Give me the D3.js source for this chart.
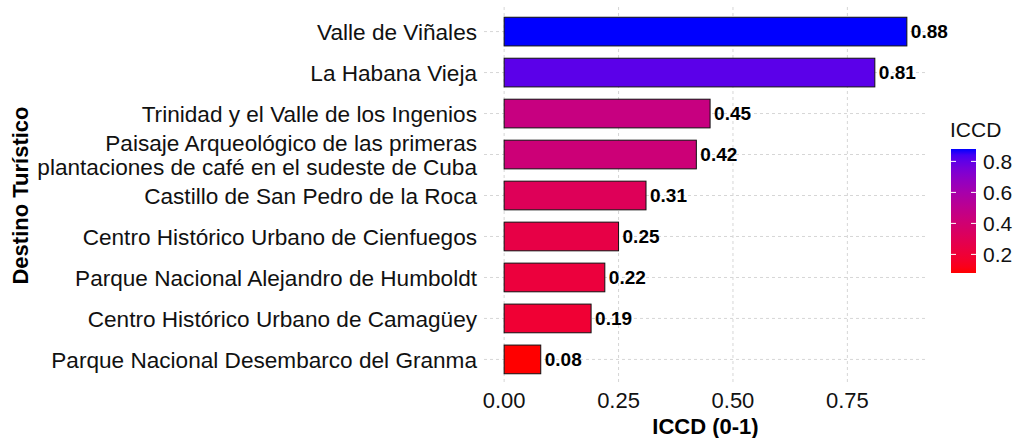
<!DOCTYPE html>
<html>
<head>
<meta charset="utf-8">
<script src="https://cdn.jsdelivr.net/npm/d3@7"></script>
<style>
  body { margin: 0; background: #fff; }
  text { font-family: "Liberation Sans", Arial, sans-serif; }
</style>
</head>
<body>
<div id="wrapper"></div>
<script>
// data
const destinos = [
  "Valle de Viñales",
  "La Habana Vieja",
  "Trinidad y el Valle de los Ingenios",
  "Paisaje Arqueológico de las primeras\nplantaciones de café en el sudeste de Cuba",
  "Castillo de San Pedro de la Roca",
  "Centro Histórico Urbano de Cienfuegos",
  "Parque Nacional Alejandro de Humboldt",
  "Centro Histórico Urbano de Camagüey",
  "Parque Nacional Desembarco del Granma"
]
const iccd = [0.88, 0.81, 0.45, 0.42, 0.31, 0.25, 0.22, 0.19, 0.08]
const xTicks = [0, 0.25, 0.5, 0.75]
const legendTicks = [0.2, 0.4, 0.6, 0.8]

const width = 1017, height = 438
const panel = { left: 484, right: 927, top: 7, bottom: 384 }

const svg = d3.select("#wrapper")
  .append("svg")
    .attr("width", width)
    .attr("height", height)

const xMax = d3.max(iccd)
const x = d3.scaleLinear()
  .domain([-xMax * 0.05, xMax * 1.05])
  .range([panel.left, panel.right])

// discrete y with ggplot-like 0.6 expansion
const step = (panel.bottom - panel.top) / (destinos.length - 1 + 1.2)
const y = d3.scalePoint()
  .domain(destinos)
  .range([panel.top + 0.6 * step, panel.bottom - 0.6 * step])
const barH = step * 0.7

const color = d3.scaleLinear()
  .domain(d3.extent(iccd))
  .range(["#ff0000", "#0000ff"])
  .interpolate(d3.interpolateLab)

const grid = svg.append("g")
  .attr("stroke", "#d6d6d6")
  .attr("stroke-dasharray", "3,3")
  .attr("stroke-width", 1)

grid.selectAll(".hgrid")
  .data(destinos)
  .join("line")
    .attr("x1", panel.left).attr("x2", panel.right)
    .attr("y1", d => y(d)).attr("y2", d => y(d))

grid.selectAll(".vgrid")
  .data(xTicks)
  .join("line")
    .attr("x1", d => x(d)).attr("x2", d => x(d))
    .attr("y1", panel.top).attr("y2", panel.bottom)

const bars = svg.append("g")
bars.selectAll("rect")
  .data(destinos)
  .join("rect")
    .attr("x", x(0))
    .attr("y", d => y(d) - barH / 2)
    .attr("width", (d, i) => x(iccd[i]) - x(0))
    .attr("height", barH)
    .attr("fill", (d, i) => color(iccd[i]))
    .attr("stroke", "#111")
    .attr("stroke-width", 1)

// value labels
svg.append("g").selectAll("text")
  .data(destinos)
  .join("text")
    .attr("x", (d, i) => x(iccd[i]) + 4)
    .attr("y", d => y(d))
    .attr("dy", "0.36em")
    .attr("font-size", 19)
    .attr("font-weight", "bold")
    .attr("fill", "#000")
    .text((d, i) => iccd[i].toFixed(2))

// y axis labels
const yLab = svg.append("g").selectAll("text")
  .data(destinos)
  .join("text")
    .attr("text-anchor", "end")
    .attr("font-size", 22.6)
    .attr("fill", "#111")
    .attr("transform", d => `translate(477,${y(d)})`)

yLab.each(function(d) {
  const lines = d.split("\n")
  const t = d3.select(this)
  lines.forEach((l, k) => {
    t.append("tspan")
      .attr("x", 0)
      .attr("y", (k - (lines.length - 1) / 2) * 24)
      .attr("dy", "0.36em")
      .text(l)
  })
})

// x axis labels
svg.append("g").selectAll("text")
  .data(xTicks)
  .join("text")
    .attr("x", d => x(d))
    .attr("y", 408)
    .attr("text-anchor", "middle")
    .attr("font-size", 22)
    .attr("fill", "#111")
    .text(d3.format(".2f"))

svg.append("text")
  .attr("x", (panel.left + panel.right) / 2)
  .attr("y", 434)
  .attr("text-anchor", "middle")
  .attr("font-size", 22)
  .attr("font-weight", "bold")
  .text("ICCD (0-1)")

svg.append("text")
  .attr("transform", `translate(28,${(panel.top + panel.bottom) / 2}) rotate(-90)`)
  .attr("text-anchor", "middle")
  .attr("font-size", 22)
  .attr("font-weight", "bold")
  .text("Destino Turístico")

// legend
const leg = { x: 951, w: 25, top: 149, bottom: 273 }
const ly = d3.scaleLinear()
  .domain(d3.extent(iccd))
  .range([leg.bottom, leg.top])

const defs = svg.append("defs")
const grad = defs.append("linearGradient")
  .attr("id", "grad")
  .attr("x1", 0).attr("y1", 1).attr("x2", 0).attr("y2", 0)
d3.range(0, 1.0001, 0.05).forEach(t => {
  const v = color.domain()[0] + t * (color.domain()[1] - color.domain()[0])
  grad.append("stop").attr("offset", t).attr("stop-color", color(v))
})

svg.append("rect")
  .attr("x", leg.x).attr("y", leg.top)
  .attr("width", leg.w).attr("height", leg.bottom - leg.top)
  .attr("fill", "url(#grad)")

const lt = svg.append("g").attr("stroke", "#fff").attr("stroke-width", 1)
legendTicks.forEach(v => {
  lt.append("line").attr("x1", leg.x).attr("x2", leg.x + 5).attr("y1", ly(v)).attr("y2", ly(v))
  lt.append("line").attr("x1", leg.x + leg.w - 5).attr("x2", leg.x + leg.w).attr("y1", ly(v)).attr("y2", ly(v))
})

svg.append("g").selectAll("text")
  .data(legendTicks)
  .join("text")
    .attr("x", 983)
    .attr("y", d => ly(d))
    .attr("dy", "0.36em")
    .attr("font-size", 21)
    .attr("fill", "#111")
    .text(d => d.toFixed(1))

svg.append("text")
  .attr("x", 950)
  .attr("y", 137)
  .attr("font-size", 21)
  .attr("fill", "#111")
  .text("ICCD")
</script>
</body>
</html>
